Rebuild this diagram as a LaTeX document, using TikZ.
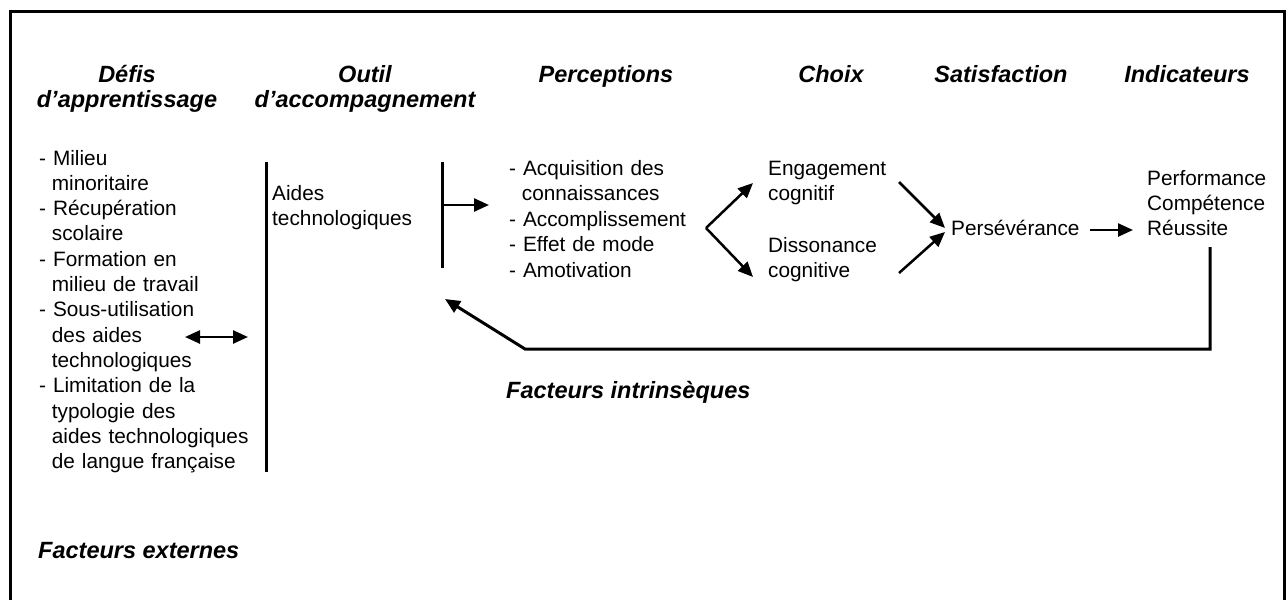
\documentclass[tikz,border=0pt]{standalone}
\usepackage{fontspec}
\setmainfont{Liberation Sans}
\usetikzlibrary{arrows.meta}
\newcommand\listindent{\hspace*{12.7pt}}
\begin{document}
\begin{tikzpicture}[x=1pt, y=-1pt,
  body/.style={inner sep=0pt, anchor=base west, align=left, text width=#1,
    font=\fontsize{20.8}{25.3}\selectfont},
  title/.style={inner sep=0pt, anchor=base, align=center, text width=300pt,
    font=\fontsize{23.5}{25}\selectfont\bfseries\itshape},
  label/.style={inner sep=0pt, anchor=base west,
    font=\fontsize{23.5}{25}\selectfont\bfseries\itshape},
  bar/.style={line width=3pt},
  tip/.style={Triangle[length=15pt, width=13pt]},
  arr/.style={line width=2.5pt, -{Triangle[length=15pt, width=13pt]}},
  darr/.style={line width=2.5pt, {Triangle[length=15pt, width=13pt]}-{Triangle[length=15pt, width=13pt]}},
  loop/.style={line width=3pt, line join=miter, -{Triangle[length=15pt, width=13pt]}}]

\useasboundingbox (0,0) rectangle (1286,600);

% open frame (no bottom edge)
\draw[line width=3pt, line join=miter] (10,600) -- (10,11) -- (1284,11) -- (1284,600);

% column headings
\node[title] (hdefis) at (127,82) {Défis\\d’apprentissage};
\node[title] (houtil) at (365,82) {Outil\\d’accompagnement};
\node[title] (hperc)  at (606,82) {Perceptions};
\node[title] (hchoix) at (831,82) {Choix};
\node[title] (hsatis) at (1001,82) {Satisfaction};
\node[title] (hindic) at (1187,82) {Indicateurs};

% learning challenges
\node[body=230pt] (defis) at (39,165) {- Milieu\\
  \listindent minoritaire\\
  - Récupération\\
  \listindent scolaire\\
  - Formation en\\
  \listindent milieu de travail\\
  - Sous-utilisation\\
  \listindent des aides\\
  \listindent technologiques\\
  - Limitation de la\\
  \listindent typologie des\\
  \listindent aides technologiques\\
  \listindent de langue française};

% support tool
\node[body=170pt] (aides) at (272,200) {Aides\\technologiques};

% perceptions
\node[body=210pt, font=\fontsize{20.8}{25.5}\selectfont] (perc) at (509,175) {- Acquisition des\\
  \listindent connaissances\\
  - Accomplissement\\
  - Effet de mode\\
  - Amotivation};

% choices
\node[body=140pt] (engag) at (768,175) {Engagement\\cognitif};
\node[body=140pt] (disso) at (768,252) {Dissonance\\cognitive};

% satisfaction
\node[body=140pt] (perse) at (951,235) {Persévérance};

% indicators
\node[body=140pt, font=\fontsize{20.8}{25}\selectfont] (indic) at (1147,185) {Performance\\Compétence\\Réussite};

% factor labels
\node[label] (intr) at (506,398) {Facteurs intrinsèques};
\node[label] (extr) at (38,558) {Facteurs externes};

% connector end points
\coordinate (barA1) at (266,162);
\coordinate (barA2) at (266,472);
\coordinate (barB1) at (442,162);
\coordinate (barB2) at (442,268);
\coordinate (barBmid) at (442,205);
\coordinate (percin) at (489,205);
\coordinate (dL) at (185,337);
\coordinate (dR) at (248,337);
\coordinate (fork) at (706,228);
\coordinate (engin) at (753,183);
\coordinate (dissin) at (753,277);
\coordinate (engout) at (899,182);
\coordinate (dissout) at (899,273);
\coordinate (persin1) at (945,228);
\coordinate (persin2) at (945,232);
\coordinate (persout) at (1090,230);
\coordinate (indin) at (1133,230);
\coordinate (fb1) at (1210,247);
\coordinate (fb2) at (1210,349);
\coordinate (fb3) at (525,349);
\coordinate (fb4) at (445,299);

% vertical bars
\draw[bar] (barA1) -- (barA2);
\draw[bar] (barB1) -- (barB2);

% arrows
\draw[darr] (dL) -- (dR);
\draw[arr] (barBmid) -- (percin);
\draw[arr] (fork) -- (engin);
\draw[arr] (fork) -- (dissin);
\draw[arr] (engout) -- (persin1);
\draw[arr] (dissout) -- (persin2);
\draw[arr] (persout) -- (indin);
\draw[loop] (fb1) -- (fb2) -- (fb3) -- (fb4);
\end{tikzpicture}
\end{document}
